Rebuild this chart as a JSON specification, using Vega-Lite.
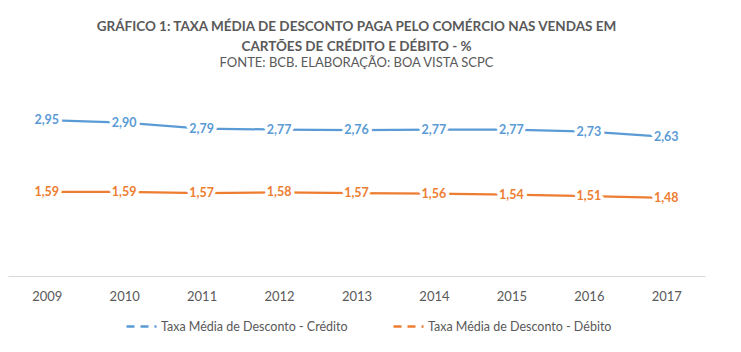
{
  "$schema": "https://vega.github.io/schema/vega-lite/v6.json",
  "width": 697,
  "height": 185,
  "autosize": {"type": "none"},
  "padding": {"left": 8, "top": 91, "right": 36, "bottom": 76},
  "background": "white",
  "title": {
    "text": ["GRÁFICO 1: TAXA MÉDIA DE DESCONTO  PAGA PELO COMÉRCIO NAS VENDAS EM", "CARTÕES DE CRÉDITO E DÉBITO - %"],
    "subtitle": "FONTE: BCB. ELABORAÇÃO: BOA VISTA SCPC",
    "anchor": "middle",
    "offset": 21,
    "font": "Lato",
    "fontSize": 13.5,
    "fontWeight": "bold",
    "color": "#595959",
    "lineHeight": 20,
    "subtitleFont": "Lato",
    "subtitleFontSize": 13,
    "subtitleColor": "#595959",
    "subtitlePadding": 4
  },
  "config": {
    "view": {"stroke": null},
    "locale": {"number": {"decimal": ",", "thousands": ".", "grouping": [3], "currency": ["R$", ""]}}
  },
  "data": {
    "values": [
      {"ano": "2009", "serie": "Taxa Média de Desconto - Crédito", "taxa": 2.95},
      {"ano": "2010", "serie": "Taxa Média de Desconto - Crédito", "taxa": 2.90},
      {"ano": "2011", "serie": "Taxa Média de Desconto - Crédito", "taxa": 2.79},
      {"ano": "2012", "serie": "Taxa Média de Desconto - Crédito", "taxa": 2.77},
      {"ano": "2013", "serie": "Taxa Média de Desconto - Crédito", "taxa": 2.76},
      {"ano": "2014", "serie": "Taxa Média de Desconto - Crédito", "taxa": 2.77},
      {"ano": "2015", "serie": "Taxa Média de Desconto - Crédito", "taxa": 2.77},
      {"ano": "2016", "serie": "Taxa Média de Desconto - Crédito", "taxa": 2.73},
      {"ano": "2017", "serie": "Taxa Média de Desconto - Crédito", "taxa": 2.63},
      {"ano": "2009", "serie": "Taxa Média de Desconto - Débito", "taxa": 1.59},
      {"ano": "2010", "serie": "Taxa Média de Desconto - Débito", "taxa": 1.59},
      {"ano": "2011", "serie": "Taxa Média de Desconto - Débito", "taxa": 1.57},
      {"ano": "2012", "serie": "Taxa Média de Desconto - Débito", "taxa": 1.58},
      {"ano": "2013", "serie": "Taxa Média de Desconto - Débito", "taxa": 1.57},
      {"ano": "2014", "serie": "Taxa Média de Desconto - Débito", "taxa": 1.56},
      {"ano": "2015", "serie": "Taxa Média de Desconto - Débito", "taxa": 1.54},
      {"ano": "2016", "serie": "Taxa Média de Desconto - Débito", "taxa": 1.51},
      {"ano": "2017", "serie": "Taxa Média de Desconto - Débito", "taxa": 1.48}
    ]
  },
  "encoding": {
    "x": {
      "field": "ano",
      "type": "ordinal",
      "scale": {"paddingInner": 0, "paddingOuter": 0},
      "axis": {
        "title": null,
        "labelAngle": 0,
        "ticks": false,
        "grid": false,
        "domainColor": "#d9d9d9",
        "domainWidth": 1,
        "labelFont": "Lato",
        "labelFontSize": 13,
        "labelColor": "#595959",
        "labelPadding": 14
      }
    },
    "y": {
      "field": "taxa",
      "type": "quantitative",
      "scale": {"domain": [0, 3.5]},
      "axis": null
    }
  },
  "layer": [
    {
      "mark": {"type": "line", "strokeWidth": 2.25},
      "encoding": {
        "color": {
          "field": "serie",
          "type": "nominal",
          "scale": {"range": ["#5B9BD5", "#ED7D31"]},
          "legend": {
            "title": null,
            "orient": "none",
            "direction": "horizontal",
            "legendX": 117,
            "legendY": 219,
            "symbolType": "stroke",
            "symbolSize": 900,
            "symbolStrokeWidth": 2.5,
            "symbolDash": [8, 6],
            "labelFont": "Lato",
            "labelFontSize": 12.5,
            "labelColor": "#595959",
            "labelLimit": 300,
            "labelOffset": 3,
            "columnPadding": 40
          }
        }
      }
    },
    {
      "mark": {"type": "text", "font": "Lato", "fontSize": 12.5, "fontWeight": "bold", "align": "center", "baseline": "middle", "fill": "white", "stroke": "white", "strokeWidth": 7, "strokeJoin": "round"},
      "encoding": {"text": {"field": "taxa", "type": "quantitative", "format": ".2f"}}
    },
    {
      "mark": {"type": "text", "font": "Lato", "fontSize": 12.5, "fontWeight": "bold", "align": "center", "baseline": "middle"},
      "encoding": {
        "text": {"field": "taxa", "type": "quantitative", "format": ".2f"},
        "color": {"field": "serie", "type": "nominal", "legend": null}
      }
    }
  ]
}
